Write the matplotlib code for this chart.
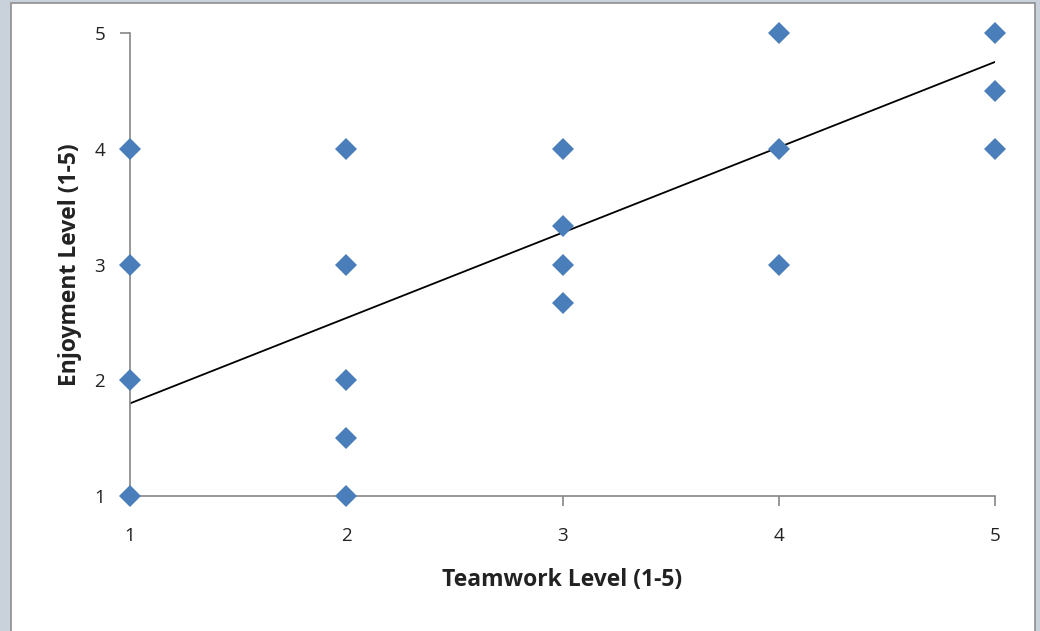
import matplotlib
matplotlib.use("Agg")
import matplotlib.pyplot as plt
from matplotlib.patches import Rectangle

# survey answers, one point per response group
teamwork = [1, 1, 1, 1, 2, 2, 2, 2, 2, 3, 3, 3, 3, 4, 4, 4, 5, 5, 5]
enjoyment = [4, 3, 2, 1, 4, 3, 2, 1.5, 1, 4, 3.33, 3, 2.67, 5, 4, 3, 5, 4.5, 4]

# linear trendline ends
trend_x = [1, 5]
trend_y = [1.8, 4.75]

ticks = [1, 2, 3, 4, 5]

plt.rcParams["font.family"] = ["Open Sans", "DejaVu Sans"]

fig = plt.figure(figsize=(10.4, 6.31), dpi=100)
fig.patch.set_facecolor("#c9d1da")
fig.patches.append(
    Rectangle((11 / 1040, -0.05), 1024 / 1040, (631 - 3) / 631 + 0.05,
              transform=fig.transFigure, facecolor="white",
              edgecolor="#8e8e8e", linewidth=1.2, zorder=-5)
)

ax = fig.add_axes([130 / 1040, 135 / 631, 865 / 1040, 463 / 631])
ax.set_facecolor("none")
ax.set_zorder(2)

ax.plot(trend_x, trend_y, color="black", linewidth=1.3, zorder=2)
ax.plot(teamwork, enjoyment, linestyle="none", marker="D", markersize=11.5,
        color="#4a7ebb", markeredgewidth=0, clip_on=False, zorder=3)

ax.set_xlim(1, 5)
ax.set_ylim(1, 5)
ax.set_xticks(ticks)
ax.set_yticks(ticks)
for side in ["top", "right"]:
    ax.spines[side].set_visible(False)
for side in ["left", "bottom"]:
    ax.spines[side].set_color("#868686")
    ax.spines[side].set_linewidth(1.2)
ax.tick_params(colors="#868686", width=1.2, length=7, labelsize=13.5,
               labelcolor="#222222")
ax.tick_params(axis="y", pad=11)
ax.tick_params(axis="x", pad=15)

ax.set_xlabel("Teamwork Level (1-5)", fontsize=16.5, fontweight="bold",
              color="#222222", labelpad=17)
ax.set_ylabel("Enjoyment Level (1-5)", fontsize=16.5, fontweight="bold",
              color="#222222", labelpad=9)

fig.savefig("out.png", dpi=100, facecolor=fig.get_facecolor())
